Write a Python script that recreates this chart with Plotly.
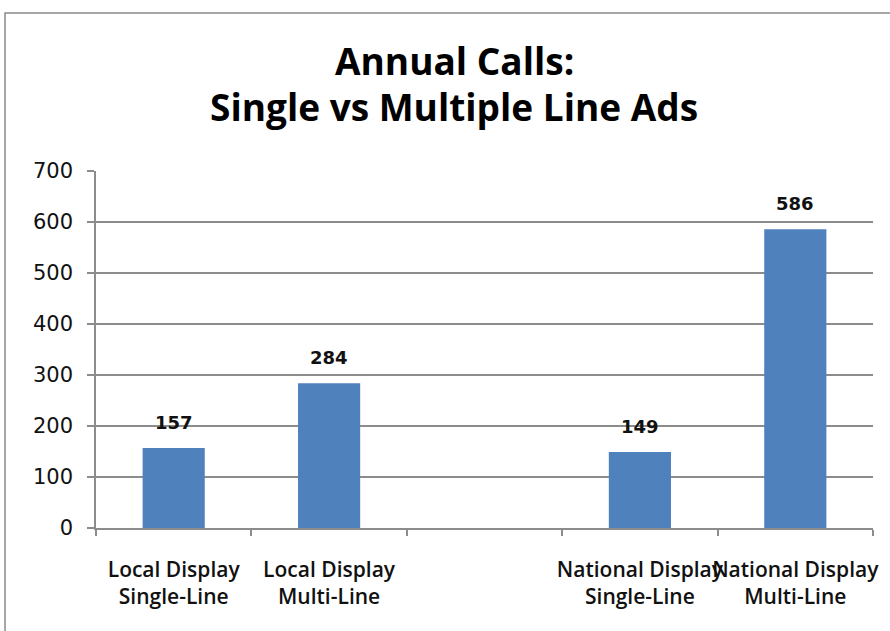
import plotly.graph_objects as go

# Annual call counts by ad type (blank slot separates local and national)
categories = [
    "Local Display<br>Single-Line",
    "Local Display<br>Multi-Line",
    " ",
    "National Display<br>Single-Line",
    "National Display<br>Multi-Line",
]
calls = [157, 284, None, 149, 586]
y_ticks = [0, 100, 200, 300, 400, 500, 600, 700]
title_lines = ["Annual Calls:", "Single vs Multiple Line Ads"]

BAR_COLOR = "#4F81BD"
GRID_COLOR = "#8C8C8C"

fig = go.Figure()
fig.add_trace(
    go.Bar(
        x=categories,
        y=calls,
        marker=dict(color=BAR_COLOR, line=dict(width=0)),
        hoverinfo="x+y",
    )
)

# value labels above each bar
for cat, val in zip(categories, calls):
    if val is None:
        continue
    fig.add_annotation(
        x=cat, y=val, text=f"<b>{val}</b>", showarrow=False,
        yanchor="bottom", yshift=13,
        font=dict(family="DejaVu Sans", size=18, color="#111111"),
    )

# two-line chart title, each line placed on its own
for line, ypos in zip(title_lines, [1.31, 1.182]):
    fig.add_annotation(
        xref="paper", yref="paper", x=0.461, y=ypos,
        xanchor="center", yanchor="middle", showarrow=False,
        text=line,
        font=dict(family="Open Sans", size=37, weight=700, color="#000000"),
    )

# outer frame of the chart area
fig.add_shape(
    type="rect", xref="paper", yref="paper",
    x0=-0.1171, x1=1.2, y0=-0.6, y1=1.4426,
    line=dict(color="#8A8A8A", width=1.5), fillcolor="rgba(0,0,0,0)",
    layer="below",
)

fig.update_layout(
    width=890, height=631,
    margin=dict(l=96, r=17, t=171, b=103),
    paper_bgcolor="white", plot_bgcolor="white",
    showlegend=False,
    bargap=0.6,
    xaxis=dict(
        type="category",
        categoryorder="array", categoryarray=categories,
        showline=True, linecolor=GRID_COLOR, linewidth=1.5,
        ticks="outside", tickson="boundaries", ticklen=6,
        tickcolor=GRID_COLOR, tickwidth=1.5,
        tickangle=0,
        tickfont=dict(family="Open Sans", size=21, weight=600, color="#111111"),
        ticklabelstandoff=22,
        showgrid=False,
    ),
    yaxis=dict(
        range=[0, 700],
        tickvals=y_ticks,
        showline=True, linecolor=GRID_COLOR, linewidth=1.5,
        ticks="outside", ticklen=7, tickcolor=GRID_COLOR, tickwidth=1.5,
        showgrid=True, gridcolor=GRID_COLOR, gridwidth=1.5,
        zeroline=False,
        tickfont=dict(family="DejaVu Sans", size=21, color="#111111"),
        ticklabelstandoff=10,
    ),
)

fig.write_html("out.html")
